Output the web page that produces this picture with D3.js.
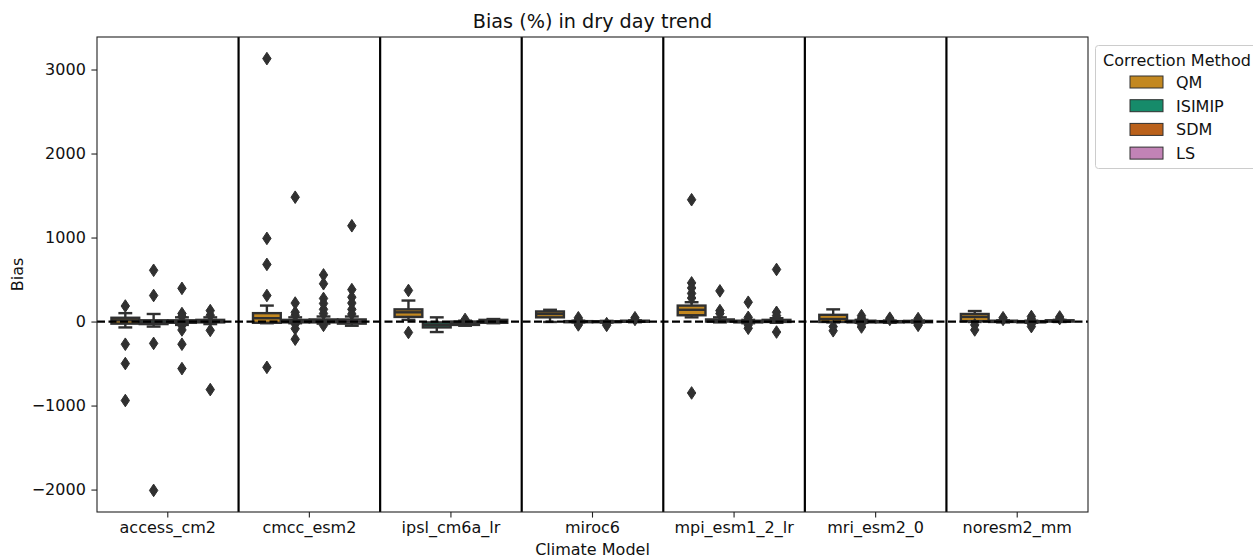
<!DOCTYPE html>
<html>
<head>
<meta charset="utf-8">
<script src="https://cdn.jsdelivr.net/npm/d3@7"></script>
<style>
  html, body { margin: 0; padding: 0; background: #fff; }
  svg { display: block; font-family: "DejaVu Sans", sans-serif; }
</style>
</head>
<body>
<svg id="chart" width="1253" height="560"></svg>
<script>
// Climate models on the x axis and bias-correction methods (hue)
const models = ["access_cm2", "cmcc_esm2", "ipsl_cm6a_lr", "miroc6", "mpi_esm1_2_lr", "mri_esm2_0", "noresm2_mm"];
const methods = ["QM", "ISIMIP", "SDM", "LS"];
const methodColors = ["#c38820", "#168b6a", "#ba611b", "#c283b6"];
const yTicks = [-2000, -1000, 0, 1000, 2000, 3000];

// Box statistics per model: [lower whisker, q1, median, q3, upper whisker]
const qmStats = [
  [-70, -25, 15, 45, 100],
  [-20, -15, 40, 100, 190],
  [20, 55, 110, 145, 250],
  [-5, 50, 90, 120, 140],
  [50, 75, 140, 190, 230],
  [-10, -5, 30, 80, 145],
  [-5, 5, 55, 90, 125]
];
const isimipStats = [
  [-60, -30, -10, 15, 90],
  [-20, -10, 5, 20, 50],
  [-125, -70, -40, -10, 50],
  [-10, -8, -2, 5, 10],
  [-10, 0, 10, 25, 50],
  [-15, -10, 0, 10, 20],
  [-10, -5, 3, 10, 15]
];
const sdmStats = [
  [-40, -15, 0, 15, 50],
  [-25, -10, 5, 25, 60],
  [-50, -40, -20, 0, 10],
  [-12, -8, -3, 3, 8],
  [-20, -10, 0, 10, 20],
  [-15, -10, -3, 5, 12],
  [-15, -10, -3, 5, 10]
];
const lsStats = [
  [-30, -10, 5, 20, 50],
  [-50, -25, 0, 25, 60],
  [-20, -15, 0, 20, 30],
  [-8, -3, 3, 10, 15],
  [-15, -5, 5, 20, 40],
  [-12, -8, 0, 8, 12],
  [-5, 0, 8, 15, 20]
];

// Outlying points per model
const qmOutliers = [
  [185, -270, -500, -940],
  [3130, 990, 680, 310, -545],
  [370, -130],
  [],
  [1450, 460, 400, 335, 280, -850],
  [-60, -110],
  [-40, -100]
];
const isimipOutliers = [
  [610, 310, -260, -2010],
  [1480, 220, 110, 75, -30, -85, -210],
  [],
  [45, 25, -20, -40],
  [365, 130, 95],
  [70, 40, -35, -65],
  [45, 25]
];
const sdmOutliers = [
  [395, 95, 60, -50, -100, -270, -560],
  [555, 450, 275, 215, 145, 95, -45],
  [25],
  [-25, -45],
  [230, 50, 20, -40, -80],
  [40, 25],
  [60, 30, -30, -60]
];
const lsOutliers = [
  [130, 75, -105, -810],
  [1140, 380, 290, 220, 145, 90],
  [],
  [45, 25],
  [620, 110, 70, -125],
  [35, -30, -45],
  [55, 35]
];

const allStats = [qmStats, isimipStats, sdmStats, lsStats];
const allOutliers = [qmOutliers, isimipOutliers, sdmOutliers, lsOutliers];

const boxes = [];
methods.forEach((m, mi) => {
  models.forEach((model, ci) => {
    const s = allStats[mi][ci];
    boxes.push({
      model, method: m, mi,
      lo: s[0], q1: s[1], med: s[2], q3: s[3], hi: s[4],
      out: allOutliers[mi][ci]
    });
  });
});

// Layout
const margin = { left: 97, right: 165, top: 37, bottom: 48 };
const W = 1253, H = 560;
const x0 = margin.left, x1 = W - margin.right;
const y0 = margin.top, y1 = H - margin.bottom;
const ink = "#303030";
const lw = 2.4;
const tickFont = 16;

const svg = d3.select("#chart");

const x = d3.scaleBand().domain(models).range([x0, x1]).paddingInner(0).paddingOuter(0);
const bw = x.bandwidth();
const xHue = d3.scaleBand().domain(methods).range([-0.4 * bw, 0.4 * bw]).padding(0);
const boxW = xHue.bandwidth() * 0.98;

// y domain from the data with 5% margins
const allVals = boxes.flatMap(b => [b.lo, b.hi, ...b.out]);
const vmin = d3.min(allVals), vmax = d3.max(allVals);
const pad = (vmax - vmin) * 0.05;
const y = d3.scaleLinear().domain([vmin - pad, vmax + pad]).range([y1, y0]);

const fmt = d => (d < 0 ? "\u2212" + Math.abs(d) : String(d));

// Axes
const yAxis = svg.append("g")
  .attr("transform", `translate(${x0},0)`)
  .call(d3.axisLeft(y).tickValues(yTicks).tickFormat(fmt).tickSizeOuter(0).tickSize(5.6).tickPadding(5.6));
yAxis.select(".domain").remove();
yAxis.selectAll("line").attr("stroke", "#222").attr("stroke-width", 1.1);
yAxis.selectAll("text").attr("font-size", tickFont).attr("fill", "#111").attr("font-family", "DejaVu Sans");

const xAxis = svg.append("g")
  .attr("transform", `translate(0,${y1})`)
  .call(d3.axisBottom(x).tickSizeOuter(0).tickSize(5.6).tickPadding(4.5));
xAxis.select(".domain").remove();
xAxis.selectAll("line").attr("stroke", "#222").attr("stroke-width", 1.1);
xAxis.selectAll("text").attr("font-size", tickFont).attr("fill", "#111").attr("font-family", "DejaVu Sans");

const plot = svg.append("g");

// Boxes
const g = plot.selectAll("g.box").data(boxes).join("g")
  .attr("class", "box")
  .attr("transform", d => `translate(${x(d.model) + bw / 2 + xHue(d.method) + xHue.bandwidth() / 2},0)`);

// whiskers
g.append("line").attr("x1", 0).attr("x2", 0)
  .attr("y1", d => y(d.q3)).attr("y2", d => y(d.hi))
  .attr("stroke", ink).attr("stroke-width", lw);
g.append("line").attr("x1", 0).attr("x2", 0)
  .attr("y1", d => y(d.q1)).attr("y2", d => y(d.lo))
  .attr("stroke", ink).attr("stroke-width", lw);
// caps
g.append("line").attr("x1", -boxW / 4).attr("x2", boxW / 4)
  .attr("y1", d => y(d.hi)).attr("y2", d => y(d.hi))
  .attr("stroke", ink).attr("stroke-width", lw);
g.append("line").attr("x1", -boxW / 4).attr("x2", boxW / 4)
  .attr("y1", d => y(d.lo)).attr("y2", d => y(d.lo))
  .attr("stroke", ink).attr("stroke-width", lw);
// box body
g.append("rect")
  .attr("x", -boxW / 2).attr("width", boxW)
  .attr("y", d => y(d.q3)).attr("height", d => Math.max(0, y(d.q1) - y(d.q3)))
  .attr("fill", d => methodColors[d.mi])
  .attr("stroke", ink).attr("stroke-width", lw);
// median
g.append("line").attr("x1", -boxW / 2).attr("x2", boxW / 2)
  .attr("y1", d => y(d.med)).attr("y2", d => y(d.med))
  .attr("stroke", ink).attr("stroke-width", lw);
// outliers as diamonds
const diamond = "M0,-6.3L4.2,0L0,6.3L-4.2,0Z";
g.selectAll("path.flier").data(d => d.out).join("path")
  .attr("class", "flier")
  .attr("d", diamond)
  .attr("transform", v => `translate(0,${y(v)})`)
  .attr("fill", ink).attr("stroke", ink).attr("stroke-width", 1);

// Zero reference line
plot.append("line")
  .attr("x1", x0).attr("x2", x1)
  .attr("y1", y(0)).attr("y2", y(0))
  .attr("stroke", "#000").attr("stroke-width", 2.2)
  .attr("stroke-dasharray", "8,3.5");

// Separators between models
plot.selectAll("line.sep").data(models.slice(1)).join("line")
  .attr("class", "sep")
  .attr("x1", d => x(d)).attr("x2", d => x(d))
  .attr("y1", y0).attr("y2", y1)
  .attr("stroke", "#000").attr("stroke-width", 2.2);

// Frame
svg.append("rect")
  .attr("x", x0).attr("y", y0).attr("width", x1 - x0).attr("height", y1 - y0)
  .attr("fill", "none").attr("stroke", "#222").attr("stroke-width", 1.1);

// Titles
svg.append("text")
  .attr("x", (x0 + x1) / 2).attr("y", 28)
  .attr("text-anchor", "middle").attr("font-size", 19.2).attr("fill", "#111")
  .text("Bias (%) in dry day trend");
svg.append("text")
  .attr("x", (x0 + x1) / 2).attr("y", 555)
  .attr("text-anchor", "middle").attr("font-size", tickFont).attr("fill", "#111")
  .text("Climate Model");
svg.append("text")
  .attr("transform", `translate(23,${(y0 + y1) / 2}) rotate(-90)`)
  .attr("text-anchor", "middle").attr("font-size", tickFont).attr("fill", "#111")
  .text("Bias");

// Legend
const lg = svg.append("g").attr("transform", "translate(1095.5,45.5)");
lg.append("rect")
  .attr("width", 175).attr("height", 123).attr("rx", 3)
  .attr("fill", "#fff").attr("fill-opacity", 0.8)
  .attr("stroke", "#ccc").attr("stroke-width", 1);
lg.append("text")
  .attr("x", 7.5).attr("y", 20)
  .attr("font-size", tickFont).attr("fill", "#111")
  .text("Correction Method");
const li = lg.selectAll("g.item").data(methods).join("g")
  .attr("class", "item")
  .attr("transform", (d, i) => `translate(0,${36.5 + i * 23.7})`);
li.append("rect")
  .attr("x", 34.5).attr("y", -6).attr("width", 33).attr("height", 12)
  .attr("fill", (d, i) => methodColors[i])
  .attr("stroke", ink).attr("stroke-width", 1);
li.append("text")
  .attr("x", 80.5).attr("y", 6)
  .attr("font-size", tickFont).attr("fill", "#111")
  .text(d => d);
</script>
</body>
</html>
